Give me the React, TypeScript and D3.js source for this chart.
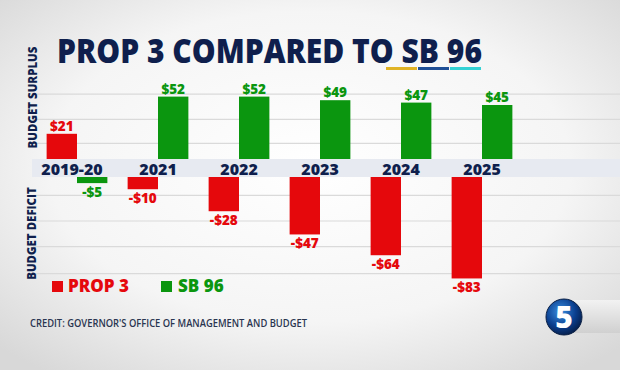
import React from "react";
import * as d3 from "d3";

// chart values
const YEARS = ["2019-20", "2021", "2022", "2023", "2024", "2025"];
const PROP3 = [21, -10, -28, -47, -64, -83];
const SB96 = [-5, 52, 52, 49, 47, 45];
const SERIES = ["PROP 3", "SB 96"];
const GRID_SURPLUS = [13, 33, 54];
const GRID_DEFICIT = [-15, -36, -57, -79];

const W = 620;
const H = 370;
const RED = "#e5080c";
const GREEN = "#0b960f";
const NAVY = "#0f1f4d";
const FONT = "'Open Sans', 'DejaVu Sans', sans-serif";

export default function App() {
  const x = d3
    .scaleBand<string>()
    .domain(YEARS)
    .range([36.5, 522.5])
    .paddingInner(0.25)
    .paddingOuter(0.125);
  const xs = d3.scaleBand<string>().domain(SERIES).range([0, x.bandwidth()]);

  // surplus panel above the year band, deficit panel below it
  const yUp = d3.scaleLinear().domain([0, 60]).range([159, 87]);
  const yDown = d3.scaleLinear().domain([0, -90]).range([177, 287]);

  const bars: { year: string; s: string; v: number; color: string }[] = [];
  YEARS.forEach((year, i) => {
    bars.push({ year, s: SERIES[0], v: PROP3[i], color: RED });
    bars.push({ year, s: SERIES[1], v: SB96[i], color: GREEN });
  });

  const fmt = (v: number) => (v < 0 ? `-$${Math.abs(v)}` : `$${v}`);

  return (
    <svg
      width={W}
      height={H}
      viewBox={`0 0 ${W} ${H}`}
      style={{ position: "absolute", left: 0, top: 0 }}
      fontFamily={FONT}
    >
      <defs>
        <radialGradient id="bg" cx="50%" cy="45%" r="70%">
          <stop offset="0%" stopColor="#ffffff" />
          <stop offset="60%" stopColor="#f5f5f5" />
          <stop offset="100%" stopColor="#d8d8d8" />
        </radialGradient>
        <radialGradient id="logo" cx="40%" cy="35%" r="70%">
          <stop offset="0%" stopColor="#3a8fe0" />
          <stop offset="60%" stopColor="#0b3f8f" />
          <stop offset="100%" stopColor="#061c45" />
        </radialGradient>
        <linearGradient id="tab" x1="0" y1="0" x2="0" y2="1">
          <stop offset="0%" stopColor="#f2f2f2" />
          <stop offset="100%" stopColor="#d0d0d0" />
        </linearGradient>
      </defs>
      <rect width={W} height={H} fill="url(#bg)" />

      {/* title */}
      <text
        x={57}
        y={63}
        fontSize={33}
        fontWeight={800}
        fill={NAVY}
        textLength={425}
        lengthAdjust="spacingAndGlyphs"
      >
        PROP 3 COMPARED TO SB 96
      </text>
      <rect x={386} y={67} width={31} height={3} fill="#e0b325" />
      <rect x={418} y={67} width={31} height={3} fill="#1f4f96" />
      <rect x={450} y={67} width={31} height={3} fill="#34d2d4" />

      {/* grid */}
      {GRID_SURPLUS.map((g) => (
        <line key={`u${g}`} x1={33} x2={W} y1={yUp(g)} y2={yUp(g)} stroke="#dadada" strokeWidth={1.2} />
      ))}
      {GRID_DEFICIT.map((g) => (
        <line key={`d${g}`} x1={33} x2={W} y1={yDown(g)} y2={yDown(g)} stroke="#dadada" strokeWidth={1.2} />
      ))}

      {/* year band */}
      <rect x={32} y={yUp(0)} width={W - 32} height={yDown(0) - yUp(0)} fill="#e7eaf1" />
      {YEARS.map((y, i) => (
        <text
          key={y}
          x={(x(y) as number) + x.bandwidth() / 2 - (i === 0 ? 5 : 0)}
          y={175}
          textAnchor="middle"
          fontSize={16}
          fontWeight={800}
          fill={NAVY}
        >
          {y}
        </text>
      ))}

      {/* bars */}
      {bars.map((b) => {
        const bx = (x(b.year) as number) + (xs(b.s) as number);
        const bw = xs.bandwidth();
        const cx = bx + bw / 2;
        if (b.v >= 0) {
          return (
            <g key={b.year + b.s}>
              <rect x={bx} y={yUp(b.v)} width={bw} height={yUp(0) - yUp(b.v)} fill={b.color} />
              <text x={cx} y={yUp(b.v) - 3} textAnchor="middle" fontSize={13.5} fontWeight={800} fill={b.color}>
                {fmt(b.v)}
              </text>
            </g>
          );
        }
        return (
          <g key={b.year + b.s}>
            <rect x={bx} y={yDown(0)} width={bw} height={yDown(b.v) - yDown(0)} fill={b.color} />
            <text x={cx} y={yDown(b.v) + 14} textAnchor="middle" fontSize={13.5} fontWeight={800} fill={b.color}>
              {fmt(b.v)}
            </text>
          </g>
        );
      })}

      {/* axis captions */}
      <text
        transform={`translate(37, ${(43 + 152) / 2}) rotate(-90)`}
        textAnchor="middle"
        fontSize={11.5}
        fontWeight={800}
        fill={NAVY}
      >
        BUDGET SURPLUS
      </text>
      <text
        transform={`translate(36, ${(183 + 284) / 2}) rotate(-90)`}
        textAnchor="middle"
        fontSize={11.5}
        fontWeight={800}
        fill={NAVY}
      >
        BUDGET DEFICIT
      </text>

      {/* legend */}
      <rect x={52} y={281} width={11} height={11} fill={RED} />
      <text x={68} y={292} fontSize={17} fontWeight={800} fill={RED}>
        {SERIES[0]}
      </text>
      <rect x={161} y={281} width={11} height={11} fill={GREEN} />
      <text x={178} y={292} fontSize={17} fontWeight={800} fill={GREEN}>
        {SERIES[1]}
      </text>

      {/* credit */}
      <text x={30} y={327} fontSize={10} fontWeight={600} fill="#2a3550" textLength={277} lengthAdjust="spacingAndGlyphs">
        CREDIT: GOVERNOR'S OFFICE OF MANAGEMENT AND BUDGET
      </text>

      {/* station bug */}
      <rect x={570} y={300} width={50} height={33} fill="url(#tab)" />
      <circle cx={564} cy={317} r={18} fill="url(#logo)" stroke="#0a1f44" strokeWidth={1} />
      <text x={564} y={328} textAnchor="middle" fontSize={30} fontWeight={900} fill="#ffffff">
        5
      </text>
    </svg>
  );
}
